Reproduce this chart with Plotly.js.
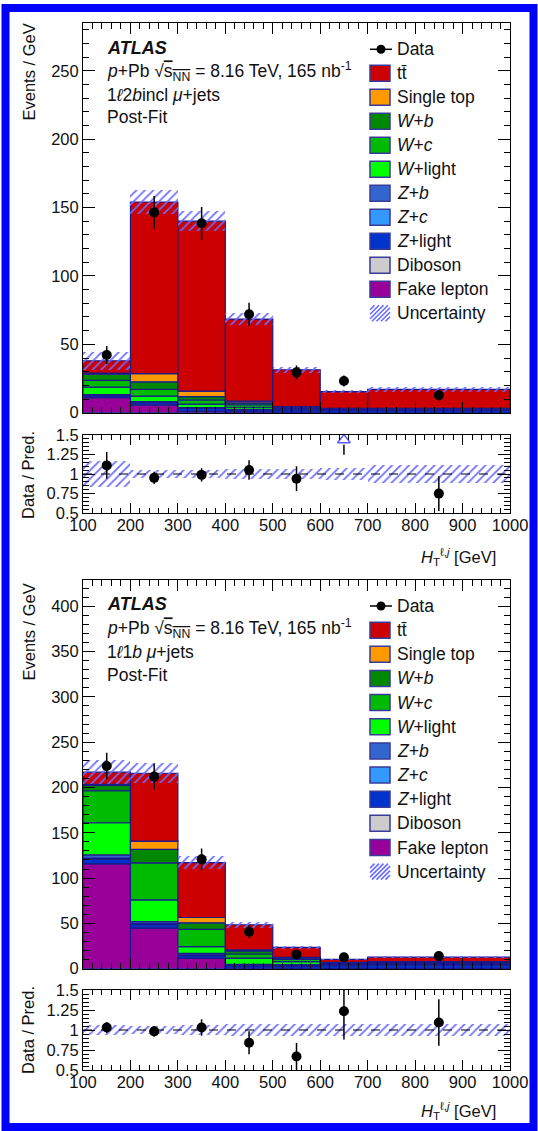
<!DOCTYPE html>
<html><head><meta charset="utf-8">
<script src="https://cdn.plot.ly/plotly-3.0.1.min.js"></script>
<style>html,body{margin:0;padding:0;background:#fff;} #plot{width:538px;height:1131px;}</style>
</head><body><div id="plot"></div>
<script>
// ---------------- DATA ----------------
const binLow  = [100, 200, 300, 400, 500, 600, 700];
const binHigh = [200, 300, 400, 500, 600, 700, 1000];

// process labels (stack order bottom -> top)
const procLabels = ['Fake lepton', 'Diboson', '<i>Z</i>+light', '<i>Z</i>+<i>c</i>', '<i>Z</i>+<i>b</i>',
                    '<i>W</i>+light', '<i>W</i>+<i>c</i>', '<i>W</i>+<i>b</i>', 'Single top', 'tt\u0304'];
const procColors = ['#990099', '#cccccc', '#0033cc', '#3399ff', '#3366cc',
                    '#00ff00', '#00bb00', '#008800', '#ff9900', '#cc0000'];

// Top panel: 1l2bincl mu+jets (Events / GeV)
const top_fake      = [11.0, 5.5, 1.0, 0.5, 0.2, 0.1, 0.1];
const top_diboson   = [0.3, 0.3, 0.2, 0.1, 0.1, 0.1, 0.1];
const top_zlight    = [1.2, 1.5, 2.0, 1.5, 1.8, 1.5, 1.4];
const top_zc        = [0.3, 0.4, 0.3, 0.2, 0.2, 0.2, 0.2];
const top_zb        = [0.4, 0.4, 0.3, 0.2, 0.3, 0.2, 0.2];
const top_wlight    = [5.5, 4.0, 2.5, 1.5, 0.5, 0.3, 0.3];
const top_wc        = [5.0, 5.0, 3.0, 1.8, 0.5, 0.3, 0.3];
const top_wb        = [4.5, 5.5, 2.5, 1.4, 0.4, 0.2, 0.2];
const top_singletop = [0.8, 6.0, 4.0, 1.3, 0.4, 0.3, 0.3];
const top_ttbar     = [9.0, 125.5, 124.3, 60.0, 27.0, 12.2, 14.0];
const top_unc       = [6.5, 8.5, 7.5, 4.5, 2.2, 1.1, 2.0];
const top_data      = [42.2, 146.5, 138.5, 72.0, 29.5, 23.2, 12.8];
const top_dataErr   = [6.5, 12.0, 12.0, 8.5, 5.0, 4.0, 3.8];

// Bottom panel: 1l1b mu+jets (Events / GeV)
const bot_fake      = [115.6, 44.6, 11.5, 0.5, 0.2, 0.1, 0.1];
const bot_diboson   = [0.5, 0.5, 0.3, 0.2, 0.2, 0.2, 0.3];
const bot_zlight    = [4.5, 3.5, 2.5, 2.5, 2.5, 3.0, 3.5];
const bot_zc        = [1.5, 1.3, 1.0, 0.5, 0.5, 0.5, 0.6];
const bot_zb        = [3.5, 2.0, 1.7, 1.0, 1.0, 1.0, 1.2];
const bot_wlight    = [35.5, 24.0, 7.3, 7.0, 3.5, 0.8, 0.8];
const bot_wc        = [35.3, 41.0, 19.0, 4.5, 2.5, 0.6, 0.6];
const bot_wb        = [6.0, 14.8, 7.3, 3.5, 1.5, 0.5, 0.5];
const bot_singletop = [1.0, 9.0, 5.9, 1.0, 0.7, 0.3, 0.3];
const bot_ttbar     = [13.5, 75.0, 60.5, 27.8, 11.0, 3.2, 4.8];
const bot_unc       = [13.0, 11.0, 7.0, 3.5, 1.8, 0.8, 1.0];
const bot_data      = [223.7, 212.0, 120.7, 40.8, 15.8, 12.6, 13.9];
const bot_dataErr   = [14.7, 14.3, 12.0, 7.0, 4.0, 3.6, 3.7];

// legend entries (top -> bottom); index into procLabels, 'data' or 'unc'
const legendOrder = ['data', 9, 8, 7, 6, 5, 4, 3, 2, 1, 0, 'unc'];
const dataLabel = 'Data';
const uncLabel = 'Uncertainty';

// texts
const atlasLabel = '<b><i>ATLAS</i></b>';
const energyLabel = '<i>p</i>+Pb \u221A<span style="text-decoration:overline">s<sub>NN</sub></span> = 8.16 TeV, 165 nb<sup>-1</sup>';
const regionTop = '1<i>\u2113</i>2<i>b</i>incl <i>\u03BC</i>+jets';
const regionBot = '1<i>\u2113</i>1<i>b</i> <i>\u03BC</i>+jets';
const fitLabel = 'Post-Fit';
const yTitleMain = 'Events / GeV';
const yTitleRatio = 'Data / Pred.';
const xTitle = '<i>H</i><sub>T</sub><sup>\u2113,<i>j</i></sup> [GeV]';
const ratioTickVals = [0.5, 0.75, 1, 1.25, 1.5];
const ratioTickText = ['0.5', '0.75', '1', '1.25', '1.5'];

// ---------------- LAYOUT HELPERS ----------------
const W = 538, H = 1131;
const px = v => v / W;
const py = v => 1 - v / H;
const FONT = 'Liberation Sans, Arial, sans-serif';
const OUTLINE = '#1a1a8c';
const HATCH = '#6b6bff';
const TXT = '#111';

const centers = binLow.map((l, i) => (l + binHigh[i]) / 2);
const widths = binLow.map((l, i) => binHigh[i] - l);

const traces = [];
const annotations = [];
const shapes = [];

const hatchPattern = {shape: '/', fgcolor: HATCH, bgcolor: 'rgba(0,0,0,0)', size: 6, solidity: 0.28};

function addPanel(procs, unc, data, dataErr, ax, rax) {
  const n = centers.length;
  const cum = new Array(n).fill(0);
  procs.forEach((vals, k) => {
    traces.push({
      type: 'bar', x: centers, y: vals, base: cum.slice(), width: widths,
      xaxis: ax.x, yaxis: ax.y, name: procLabels[k], showlegend: false,
      marker: {color: procColors[k], line: {color: OUTLINE, width: 1.2}},
      hoverinfo: 'skip'
    });
    vals.forEach((v, i) => cum[i] += v);
  });
  const total = cum.slice();
  traces.push({
    type: 'bar', x: centers, y: unc.map(u => 2 * u), base: total.map((t, i) => t - unc[i]), width: widths,
    xaxis: ax.x, yaxis: ax.y, name: uncLabel, showlegend: false,
    marker: {color: 'rgba(0,0,0,0)', line: {width: 0}, pattern: hatchPattern},
    hoverinfo: 'skip'
  });
  traces.push({
    type: 'scatter', mode: 'markers', x: centers, y: data,
    xaxis: ax.x, yaxis: ax.y, name: dataLabel, showlegend: false,
    marker: {color: 'black', size: 10},
    error_y: {type: 'data', array: dataErr, color: 'black', thickness: 1.5, width: 0},
    hoverinfo: 'skip'
  });
  // ratio
  const rMax = 1.5;
  const ratio = data.map((d, i) => d / total[i]);
  const ratioErr = dataErr.map((e, i) => e / total[i]);
  const relUnc = unc.map((u, i) => u / total[i]);
  traces.push({
    type: 'bar', x: centers, y: relUnc.map(r => 2 * r), base: relUnc.map(r => 1 - r), width: widths,
    xaxis: rax.x, yaxis: rax.y, showlegend: false,
    marker: {color: 'rgba(0,0,0,0)', line: {width: 0}, pattern: hatchPattern},
    hoverinfo: 'skip'
  });
  traces.push({
    type: 'scatter', mode: 'markers', x: centers, y: ratio.map(r => r > rMax ? null : r),
    xaxis: rax.x, yaxis: rax.y, showlegend: false,
    marker: {color: 'black', size: 10},
    error_y: {type: 'data', array: ratioErr, color: 'black', thickness: 1.5, width: 0},
    hoverinfo: 'skip'
  });
  ratio.forEach((r, i) => {
    if (r > rMax) {
      traces.push({
        type: 'scatter', mode: 'lines', x: [centers[i], centers[i]], y: [r - ratioErr[i], rMax - 0.125],
        xaxis: rax.x, yaxis: rax.y, showlegend: false, line: {color: 'black', width: 1.5}, hoverinfo: 'skip'
      });
      traces.push({
        type: 'scatter', mode: 'markers', x: [centers[i]], y: [rMax - 0.065],
        xaxis: rax.x, yaxis: rax.y, showlegend: false,
        marker: {symbol: 'triangle-up-open', size: 11, color: '#5a5aff', line: {width: 1.5}}, hoverinfo: 'skip'
      });
    }
  });
}

addPanel([top_fake, top_diboson, top_zlight, top_zc, top_zb, top_wlight, top_wc, top_wb, top_singletop, top_ttbar],
         top_unc, top_data, top_dataErr, {x: 'x', y: 'y'}, {x: 'x2', y: 'y2'});
addPanel([bot_fake, bot_diboson, bot_zlight, bot_zc, bot_zb, bot_wlight, bot_wc, bot_wb, bot_singletop, bot_ttbar],
         bot_unc, bot_data, bot_dataErr, {x: 'x3', y: 'y3'}, {x: 'x4', y: 'y4'});

// ---------------- LEGEND (drawn as shapes + text) ----------------
function clipSeg(x0, y0, x1, y1, bx0, by0, bx1, by1) {
  let t0 = 0, t1 = 1; const dx = x1 - x0, dy = y1 - y0;
  const p = [-dx, dx, -dy, dy], q = [x0 - bx0, bx1 - x0, y0 - by0, by1 - y0];
  for (let i = 0; i < 4; i++) {
    if (p[i] === 0) { if (q[i] < 0) return null; continue; }
    const t = q[i] / p[i];
    if (p[i] < 0) { if (t > t1) return null; if (t > t0) t0 = t; }
    else { if (t < t0) return null; if (t < t1) t1 = t; }
  }
  return [x0 + t0 * dx, y0 + t0 * dy, x0 + t1 * dx, y0 + t1 * dy];
}
function addText(text, x, y, size, opts) {
  annotations.push(Object.assign({
    text: text, xref: 'paper', yref: 'paper', x: px(x), y: py(y), xanchor: 'left', yanchor: 'middle',
    showarrow: false, font: {family: FONT, size: size, color: TXT}
  }, opts || {}));
}
function drawLegend(yFirst, step) {
  const bx0 = 370, bx1 = 390, hh = 8;
  legendOrder.forEach((entry, k) => {
    const yc = yFirst + k * step;
    let label;
    if (entry === 'data') {
      label = dataLabel;
      shapes.push({type: 'line', xref: 'paper', yref: 'paper', x0: px(370), x1: px(392), y0: py(yc), y1: py(yc),
                   line: {color: 'black', width: 1.5}});
      shapes.push({type: 'circle', xref: 'paper', yref: 'paper', x0: px(376.5), x1: px(385.5), y0: py(yc + 4.5), y1: py(yc - 4.5),
                   fillcolor: 'black', line: {color: 'black', width: 0}});
    } else if (entry === 'unc') {
      label = uncLabel;
      let path = '';
      for (let o = -16; o <= 22; o += 4.5) {
        const s = clipSeg(bx0 + o, yc + hh, bx0 + o + 16, yc - hh, bx0, yc - hh, bx1, yc + hh);
        if (s) path += `M${px(s[0])},${py(s[1])}L${px(s[2])},${py(s[3])}`;
      }
      shapes.push({type: 'path', xref: 'paper', yref: 'paper', path: path, line: {color: HATCH, width: 1.6}});
    } else {
      label = procLabels[entry];
      shapes.push({type: 'rect', xref: 'paper', yref: 'paper', x0: px(bx0), x1: px(bx1), y0: py(yc + hh), y1: py(yc - hh),
                   fillcolor: procColors[entry], line: {color: '#3a3a9a', width: 1.5}});
    }
    addText(label, 394.5, yc, 17.5);
  });
}

// top panel labels
addText(atlasLabel, 105, 47.7, 18);
addText(energyLabel, 105, 71.5, 17.5);
addText(regionTop, 105, 94.5, 17.5);
addText(fitLabel, 105, 117.3, 17.5);
addText(yTitleMain, 28, 22, 16.5, {textangle: -90, xanchor: 'center', yanchor: 'top'});
addText(yTitleRatio, 28, 475, 16.5, {textangle: -90, xanchor: 'center', yanchor: 'middle'});
addText(xTitle, 498, 556.5, 16.5, {xanchor: 'right'});
drawLegend(49.3, 24.0);
// bottom panel labels
addText(atlasLabel, 105, 604.3, 18);
addText(energyLabel, 105, 628.3, 17.5);
addText(regionBot, 105, 651.7, 17.5);
addText(fitLabel, 105, 674.5, 17.5);
addText(yTitleMain, 28, 582, 16.5, {textangle: -90, xanchor: 'center', yanchor: 'top'});
addText(yTitleRatio, 28, 1030, 16.5, {textangle: -90, xanchor: 'center', yanchor: 'middle'});
addText(xTitle, 498, 1111, 16.5, {xanchor: 'right'});
drawLegend(606.0, 24.15);

const xDom = [px(83), px(510)];
function xAxis(anchor, labels, tl, ml) {
  return {
    domain: xDom, anchor: anchor, range: [100, 1000], showline: true, linecolor: 'black', linewidth: 1,
    mirror: 'ticks', ticks: 'inside', ticklen: tl, tickwidth: 1, tickcolor: 'black', dtick: 100, tick0: 0,
    minor: {ticks: 'inside', ticklen: ml, dtick: 20, tick0: 0, tickwidth: 1, tickcolor: 'black'},
    showticklabels: labels, tickfont: {family: FONT, size: 16.5, color: TXT}, ticklabelstandoff: -3,
    showgrid: false, zeroline: false, fixedrange: true, layer: 'above traces'
  };
}
function yMain(domain, anchor, range) {
  return {
    domain: domain, anchor: anchor, range: range, showline: true, linecolor: 'black', linewidth: 1,
    mirror: 'ticks', ticks: 'inside', ticklen: 12, tickwidth: 1, tickcolor: 'black', dtick: 50, tick0: 0,
    minor: {ticks: 'inside', ticklen: 6, dtick: 10, tick0: 0, tickwidth: 1, tickcolor: 'black'},
    tickfont: {family: FONT, size: 16.5, color: TXT},
    showgrid: false, zeroline: false, fixedrange: true, layer: 'above traces'
  };
}
function yRatio(domain, anchor) {
  return {
    domain: domain, anchor: anchor, range: [0.5, 1.5], showline: true, linecolor: 'black', linewidth: 1,
    mirror: 'ticks', ticks: 'inside', ticklen: 12, tickwidth: 1, tickcolor: 'black',
    tickmode: 'array', tickvals: ratioTickVals, ticktext: ratioTickText,
    minor: {ticks: 'inside', ticklen: 6, dtick: 0.05, tick0: 0.5, tickwidth: 1, tickcolor: 'black'},
    tickfont: {family: FONT, size: 16.5, color: TXT},
    showgrid: false, zeroline: false, fixedrange: true, layer: 'above traces'
  };
}

shapes.push(
  {type: 'line', xref: 'x2 domain', yref: 'y2', x0: 0, x1: 1, y0: 1, y1: 1, line: {color: 'black', width: 1, dash: 'dash'}},
  {type: 'line', xref: 'x4 domain', yref: 'y4', x0: 0, x1: 1, y0: 1, y1: 1, line: {color: 'black', width: 1, dash: 'dash'}},
  {type: 'rect', xref: 'paper', yref: 'paper', x0: px(5.5), x1: px(533.5), y0: py(1127), y1: py(8), line: {color: '#0000ff', width: 8}, layer: 'above'}
);

const layout = {
  width: W, height: H, margin: {l: 0, r: 0, t: 0, b: 0},
  paper_bgcolor: 'white', plot_bgcolor: 'white',
  barmode: 'overlay', bargap: 0, showlegend: false,
  xaxis: xAxis('y', false, 11, 6),
  yaxis: yMain([py(412.7), py(23)], 'x', [0, 285]),
  xaxis2: xAxis('y2', true, 10, 5),
  yaxis2: yRatio([py(513), py(435)], 'x2'),
  xaxis3: xAxis('y3', false, 11, 6),
  yaxis3: yMain([py(968.7), py(580)], 'x3', [0, 429]),
  xaxis4: xAxis('y4', true, 10, 5),
  yaxis4: yRatio([py(1070), py(990)], 'x4'),
  annotations: annotations,
  shapes: shapes,
  font: {family: FONT}
};

Plotly.newPlot('plot', traces, layout, {staticPlot: true, displayModeBar: false});
</script>
</body></html>
